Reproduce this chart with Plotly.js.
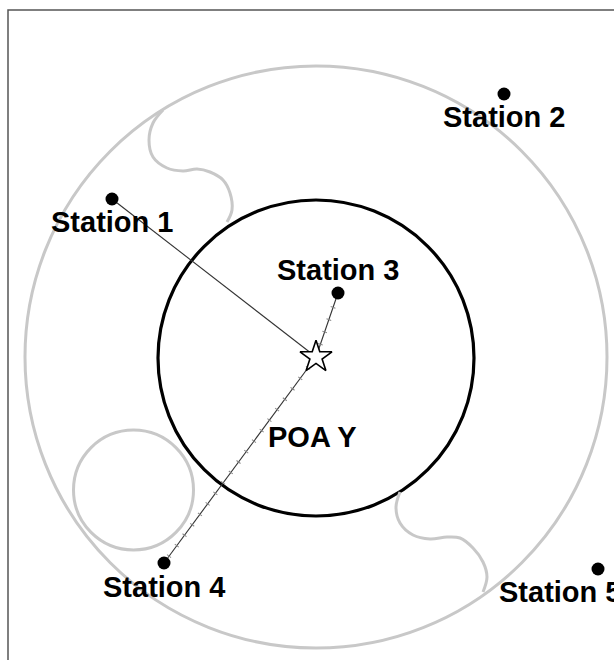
<!DOCTYPE html>
<html>
<head>
<meta charset="utf-8">
<script src="https://cdn.plot.ly/plotly-3.0.1.min.js"></script>
<style>html,body{margin:0;padding:0;background:#fff;}#chart{width:614px;height:660px;}</style>
</head>
<body>
<div id="chart"></div>
<script>
// Station positions (relative to POA Y epicentre, same units as map)
const stationNames = ["Station 1", "Station 2", "Station 3", "Station 4", "Station 5"];
const stationX = [-204, 188, 22, -152, 282];
const stationY = [158, 263, 64, -206, -212];

// Epicentre
const poaName = "POA Y";
const poaX = [0];
const poaY = [0];

// Stations linked to epicentre
const linkedStations = [0, 2, 3];
const tickedStations = [2, 3];

// Circles: [centerX, centerY, radius]
const outerCircle = [0, 0, 291];
const innerCircle = [0, -1, 158];
const smallCircle = [-182.5, -133, 60];

// Grey boundary curves
const curveTopX = [-153, -163, -167, -163, -149, -133, -119, -106, -93, -86, -84, -89];
const curveTopY = [247, 234, 217, 200, 189, 186, 188, 185, 177, 164, 147, 135];
const curveBotX = [84, 80, 84, 97, 114, 131, 144, 157, 167, 171, 167];
const curveBotY = [-135, -150, -166, -178, -182, -180, -181, -191, -205, -220, -235];

const traces = [];
const grey = "#c8c8c8";

traces.push({x: curveTopX, y: curveTopY, mode: "lines", line: {color: grey, width: 3, shape: "spline", smoothing: 1}, hoverinfo: "skip"});
traces.push({x: curveBotX, y: curveBotY, mode: "lines", line: {color: grey, width: 3, shape: "spline", smoothing: 1}, hoverinfo: "skip"});

linkedStations.forEach(i => {
  traces.push({x: [stationX[i], poaX[0]], y: [stationY[i], poaY[0]], mode: "lines",
    line: {color: "#333", width: 1.1}, hoverinfo: "skip"});
});
tickedStations.forEach(i => {
  traces.push({x: [poaX[0], stationX[i]], y: [poaY[0], stationY[i]], mode: "lines",
    line: {color: "#888", width: 5, dash: "1px,12px"}, hoverinfo: "skip"});
});

traces.push({x: stationX, y: stationY, mode: "markers", marker: {color: "#000", size: 13}, hoverinfo: "skip"});
traces.push({x: poaX, y: poaY, mode: "markers",
  marker: {symbol: "star", color: "#fff", size: 24, line: {color: "#000", width: 1.6}}, hoverinfo: "skip"});

function circleShape(c, color, width) {
  return {type: "circle", xref: "x", yref: "y", x0: c[0] - c[2], x1: c[0] + c[2], y0: c[1] - c[2], y1: c[1] + c[2],
    line: {color: color, width: width}, layer: "below"};
}

const labelDX = [0, 0, 0, 0, -38];
const labelDY = [-23, -23, 23, -24, -23];
const font = {family: "Liberation Sans, Arial, sans-serif", size: 29, color: "#000", weight: "bold"};
const annotations = stationNames.map((n, i) => ({
  x: stationX[i] + labelDX[i], y: stationY[i] + labelDY[i], text: n, showarrow: false,
  xanchor: "center", yanchor: "middle", font: font
}));
annotations.push({x: poaX[0] - 4, y: poaY[0] - 80, text: poaName, showarrow: false, xanchor: "center", yanchor: "middle", font: font});

const layout = {
  width: 614, height: 660,
  margin: {l: 0, r: 0, t: 0, b: 0},
  paper_bgcolor: "#fff", plot_bgcolor: "#fff",
  showlegend: false,
  xaxis: {range: [-316, 298], visible: false, fixedrange: true},
  yaxis: {range: [-303, 357], visible: false, fixedrange: true},
  shapes: [
    circleShape(outerCircle, grey, 3),
    circleShape(smallCircle, grey, 3),
    circleShape(innerCircle, "#000", 3.2),
    {type: "rect", xref: "paper", yref: "paper", x0: 8 / 614, x1: 1.05, y0: -0.05, y1: 1 - 10 / 660,
      line: {color: "#555", width: 1.5}}
  ],
  annotations: annotations
};

Plotly.newPlot("chart", traces, layout, {staticPlot: true, displayModeBar: false});
</script>
</body>
</html>
